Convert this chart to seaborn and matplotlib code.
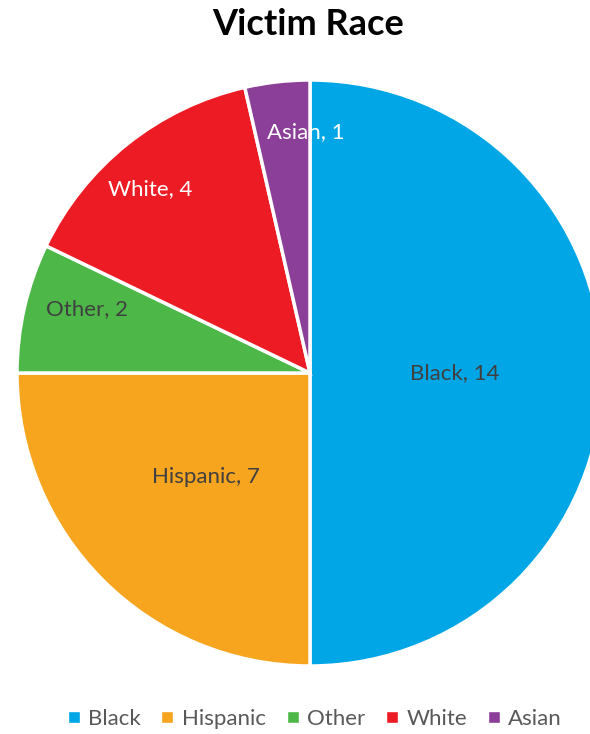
import numpy as np
import matplotlib
matplotlib.use("Agg")
import matplotlib.pyplot as plt
import seaborn as sns

# Data
races = ["Black", "Hispanic", "Other", "White", "Asian"]
counts = [14, 7, 2, 4, 1]
colors = ["#00A6E6", "#F7A51E", "#4DB848", "#ED1C24", "#8C3F98"]
label_colors = ["#404040", "#404040", "#404040", "white", "white"]
# label placement (radius fraction, angle in degrees) like Excel's best fit
label_r = [0.495, 0.5, 0.79, 0.833, 0.823]
label_theta = [0, 225, 164, 131, 91]

sns.set_theme(style="white")
plt.rcParams['font.family'] = ['Lato', 'DejaVu Sans']

fig = plt.figure(figsize=(5.9, 7.34), dpi=100)
ax = fig.add_axes([17 / 590, 68 / 734, 586 / 590, 586 / 734])

wedges, texts = ax.pie(
    counts, labels=[f"{r}, {c}" for r, c in zip(races, counts)],
    colors=colors, startangle=90, counterclock=False,
    labeldistance=0.5, radius=1,
    wedgeprops=dict(edgecolor="white", linewidth=2.5),
    textprops=dict(fontsize=16),
)
for t, r, th, c in zip(texts, label_r, label_theta, label_colors):
    ang = np.deg2rad(th)
    t.set_position((r * np.cos(ang), r * np.sin(ang)))
    t.set_ha("center")
    t.set_va("center")
    t.set_color(c)
    t.set_zorder(5)

ax.set_xlim(-1, 1)
ax.set_ylim(-1, 1)
ax.set_aspect("equal")

fig.text(0.522, 0.966, "Victim Race", ha="center", va="center",
         fontsize=26, fontweight="bold", color="black")

handles = [plt.Line2D([0], [0], marker="s", color="w", markerfacecolor=col,
                      markersize=8, linestyle="") for col in colors]
fig.legend(handles, races, loc="center", bbox_to_anchor=(0.532, 0.021),
           ncol=5, frameon=False, fontsize=16, handlelength=0.7,
           handletextpad=0.3, columnspacing=0.85, labelcolor="#595959")

fig.savefig("out.png", dpi=100)
